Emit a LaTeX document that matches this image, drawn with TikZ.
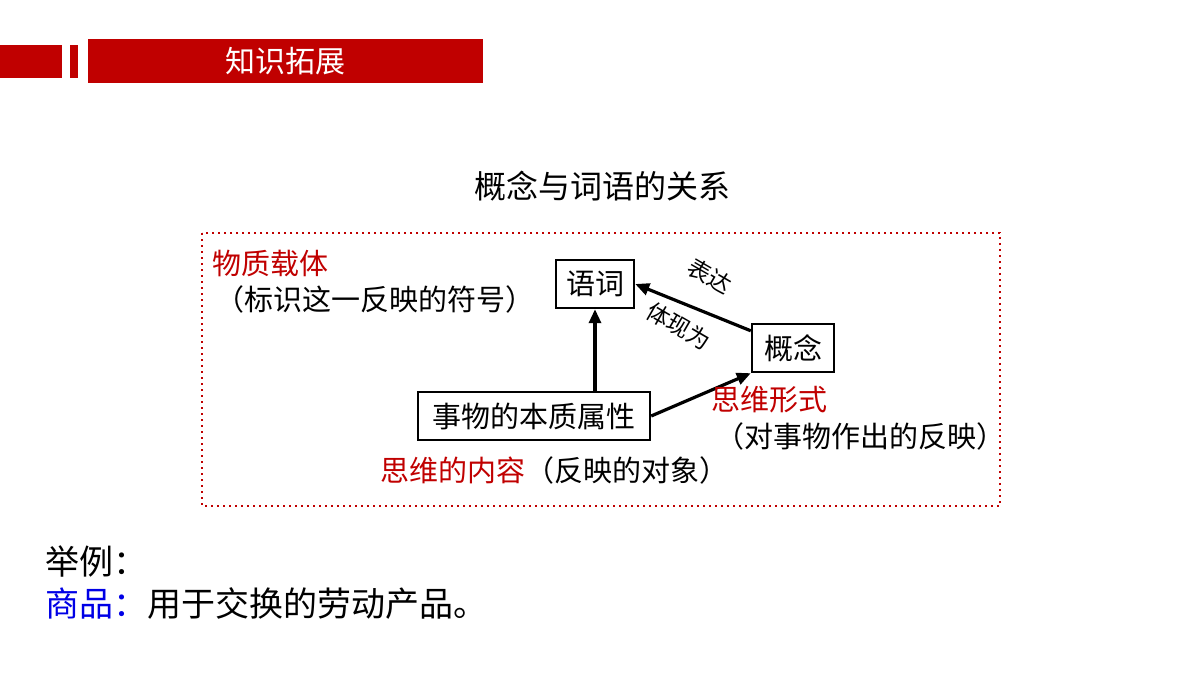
\documentclass[tikz,border=0pt]{standalone}
\usepackage{fontspec}
\setmainfont{Noto Sans CJK SC}
\usetikzlibrary{arrows.meta}
\definecolor{hdred}{RGB}{192,0,0}
\definecolor{txtred}{RGB}{192,0,0}
\definecolor{txtblue}{RGB}{0,0,230}
\tikzset{
  box/.style={draw,line width=1.2pt,inner sep=3pt,minimum height=24,font=\fontsize{14.5}{16}\selectfont},
  lbl/.style={font=\fontsize{14.5}{16}\selectfont,inner sep=0pt},
  arr/.style={-{Triangle[length=7pt,width=6pt]},line width=1.6pt},
}
\begin{document}
\begin{tikzpicture}[x=0.5pt,y=-0.5pt]
\useasboundingbox (0,0) rectangle (1200,675);
% header
\fill[hdred] (0,45) rectangle (62,78);
\fill[hdred] (70,45) rectangle (78,78);
\fill[hdred] (88,39) rectangle (483,83);
\node[lbl,text=white,font=\fontsize{15}{17}\selectfont] (head) at (285,61) {知识拓展};

\node[lbl,font=\fontsize{16}{18}\selectfont] (title) at (602,186) {概念与词语的关系};
\draw[txtred,dotted,line width=1pt] (202,233) rectangle (1000,506);

\node[box,minimum width=39] (word) at (595,284) {语词};
\node[box,minimum width=41] (concept) at (793,348) {概念};
\node[box,minimum width=116] (thing) at (534,416) {事物的本质属性};

\draw[arr] (thing.north -| word) -- (word.south);
\draw[arr] (thing.east) -- (concept.south west);
\draw[arr] ([yshift=-4]concept.north west) -- (word.east);
\node[lbl,rotate=-30,font=\fontsize{11.5}{13}\selectfont] (express) at (710,276) {表达};
\node[lbl,rotate=-30,font=\fontsize{11.5}{13}\selectfont] (embody) at (679,326) {体现为};

\node[lbl,anchor=west,text=txtred] (carrier) at (212,263) {物质载体};
\node[lbl,anchor=west] (carrierx) at (215,299) {（标识这一反映的符号）};
\node[lbl,anchor=west,text=txtred] (form) at (711,400) {思维形式};
\node[lbl,anchor=west] (formx) at (715,436) {（对事物作出的反映）};
\node[lbl,anchor=west] (content) at (380,470) {\textcolor{txtred}{思维的内容}（反映的对象）};

\node[lbl,anchor=west,font=\fontsize{17}{19}\selectfont] (eg) at (45,561) {举例：};
\node[lbl,anchor=west,font=\fontsize{17}{19}\selectfont] (goods) at (45,604) {\textcolor{txtblue}{商品：}用于交换的劳动产品。};
\end{tikzpicture}
\end{document}
